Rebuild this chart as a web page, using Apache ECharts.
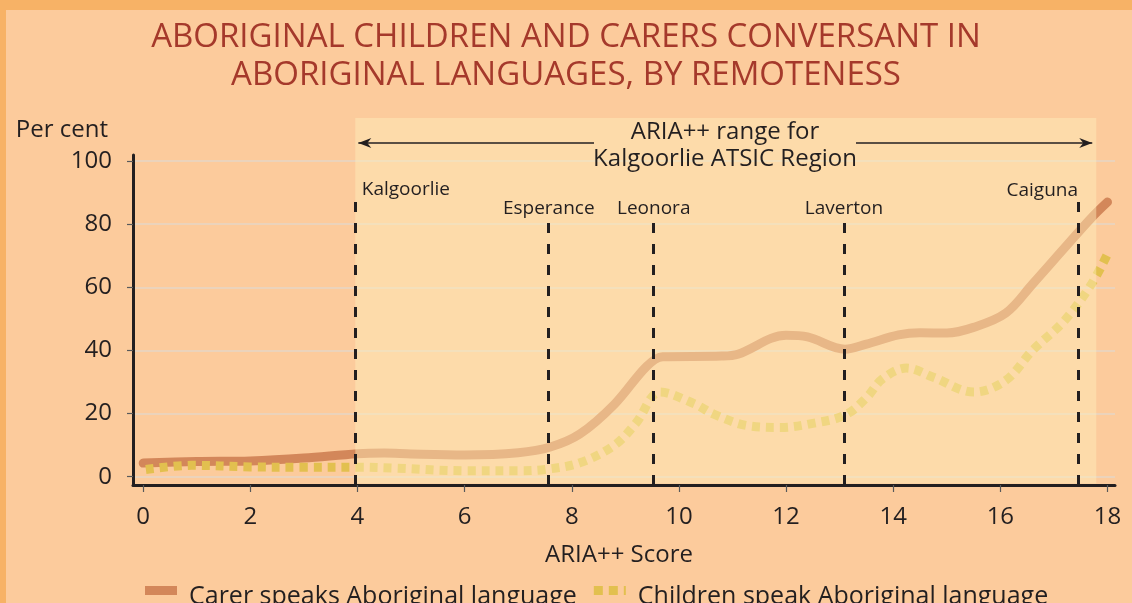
<!DOCTYPE html>
<html>
<head>
<meta charset="utf-8">
<script src="https://cdn.jsdelivr.net/npm/echarts@6/dist/echarts.min.js"></script>
<style>
  body { margin: 0; background: #fccb9c; }
  #chart { width: 1132px; height: 603px; }
</style>
</head>
<body>
<div id="chart"></div>
<script>
// ARIA++ score vs per cent conversant
const carerScore = [0, 1, 2, 3, 4, 4.5, 5, 6, 7, 7.6, 8.15, 8.8, 9.4, 9.7, 10.8, 11.1, 12, 12.4, 13.1, 13.5, 14.1, 14.5, 15, 15.5, 16.1, 16.6, 17.2, 17.7, 18];
const carerPct = [4.3, 4.8, 5.0, 5.9, 7.3, 7.5, 7.2, 6.9, 7.6, 9.4, 13.5, 23, 35, 38, 38.2, 38.8, 44.8, 44.3, 40.4, 42, 44.9, 45.6, 45.5, 47.3, 51.8, 61, 72.5, 82, 87];
const childScore = [0.05, 0.9, 2, 3, 4, 4.7, 6, 7, 7.5, 8.15, 8.8, 9.2, 9.65, 10.3, 10.65, 11.3, 11.9, 12.5, 13.1, 13.5, 13.8, 14.25, 14.75, 15.5, 16.1, 16.6, 17.2, 17.7, 18];
const childPct = [2.3, 3.6, 3.1, 3.0, 3.0, 2.7, 1.9, 1.9, 2.3, 4.4, 10, 17, 26.8, 23, 19.8, 16.1, 15.6, 16.9, 19.5, 25, 31, 34.4, 31.5, 26.8, 30.5, 40, 49.5, 61, 70.5];

const townNames = ["Kalgoorlie", "Esperance", "Leonora", "Laverton", "Caiguna"];
const townScores = [3.95, 7.57, 9.53, 13.08, 17.45];
const townLineTop = [89.9, 81.6, 81.6, 81.6, 88.3];

const regionRange = [3.96, 17.79];
const xTicks = [0, 2, 4, 6, 8, 10, 12, 14, 16, 18];
const yTicks = [0, 20, 40, 60, 80, 100];
const xExtent = [-0.19, 18.14];
const yExtent = [-2.63, 101.9];

const FONT = "Open Sans";
const INK = "#231f20";

const zip = (xs, ys) => xs.map((x, i) => [x, ys[i]]);

// label placement for the town markers
const townLabelAlign = ["left", "center", "center", "center", "right"];
const townLabelDist = [3, 10, 10, 10, 7];
const townLabelPad = [[0, 0, 0, 7], 0, 0, 0, 0];

const chart = echarts.init(document.getElementById("chart"));

const option = {
  backgroundColor: "#fccb9c",
  animation: false,
  textStyle: { fontFamily: FONT },
  title: {
    text: "ABORIGINAL CHILDREN AND CARERS CONVERSANT IN\nABORIGINAL LANGUAGES, BY REMOTENESS",
    left: "center",
    top: 14,
    textStyle: { color: "#a5392b", fontSize: 33, fontWeight: "normal", lineHeight: 38, fontFamily: FONT },
  },
  legend: {
    left: 140,
    top: 567,
    itemWidth: 32,
    itemHeight: 9,
    itemGap: 17,
    // blank first line pushes the label a little below the icon, as in the original
    formatter: (name) => "\n" + name,
    textStyle: { fontSize: 25, lineHeight: 12, color: INK, padding: [0, 0, 0, 7] },
    data: [
      { name: "Carer speaks Aboriginal language", icon: "rect" },
      { name: "Children speak Aboriginal language", icon: "path://M0,0h9v9h-9zM15,0h9v9h-9zM30,0h2v9h-2z" },
    ],
  },
  grid: { left: 133, top: 155, width: 982, height: 330, containLabel: false },
  xAxis: {
    type: "value",
    min: xExtent[0],
    max: xExtent[1],
    name: "ARIA++ Score",
    nameLocation: "middle",
    nameGap: 58,
    nameTextStyle: { fontSize: 24, color: INK, padding: [0, 10, 0, 0] },
    axisLine: { show: true, onZero: false, lineStyle: { color: INK, width: 3 } },
    axisTick: { show: true, customValues: xTicks, length: 7, lineStyle: { color: "#58595b", width: 1.2 } },
    axisLabel: { customValues: xTicks, fontSize: 24, color: INK, margin: 20 },
    splitLine: { show: false },
  },
  yAxis: {
    type: "value",
    min: yExtent[0],
    max: yExtent[1],
    name: "Per cent",
    nameLocation: "end",
    nameGap: 25,
    nameTextStyle: { fontSize: 24, color: INK, align: "right", verticalAlign: "middle", padding: [0, 25, 0, 0] },
    axisLine: { show: true, onZero: false, lineStyle: { color: INK, width: 3 } },
    axisTick: { show: true, customValues: yTicks, length: 6, lineStyle: { color: "#58595b", width: 1.2 } },
    axisLabel: { customValues: yTicks, fontSize: 24, color: INK, margin: 21 },
    splitLine: { show: true, lineStyle: { color: "#e6d6c6", width: 1.5 } },
  },
  series: [
    {
      name: "Carer speaks Aboriginal language",
      type: "line",
      data: zip(carerScore, carerPct),
      smooth: 0.35,
      symbol: "none",
      color: "#d3875a",
      lineStyle: { width: 9, color: "#d3875a", cap: "round" },
      z: 2,
      markLine: {
        silent: true,
        symbol: "none",
        animation: false,
        lineStyle: { color: INK, width: 3, type: [10, 11] },
        label: { show: true, position: "end", fontSize: 19, color: INK, fontFamily: FONT, verticalAlign: "middle" },
        data: townNames.map((n, i) => [
          {
            coord: [townScores[i], yExtent[0]],
            label: {
              formatter: n,
              align: townLabelAlign[i],
              distance: townLabelDist[i],
              padding: townLabelPad[i],
            },
          },
          { coord: [townScores[i], townLineTop[i]] },
        ]),
      },
    },
    {
      name: "Children speak Aboriginal language",
      type: "line",
      data: zip(childScore, childPct),
      smooth: 0.35,
      symbol: "none",
      color: "#e2c04f",
      lineStyle: { width: 9, color: "#e2c04f", type: [8, 6], cap: "butt" },
      z: 2,
    },
  ],
};

chart.setOption(option);

// highlight band and arrow for the Kalgoorlie ATSIC region range
const p0 = chart.convertToPixel({ gridIndex: 0 }, [regionRange[0], yExtent[0]]);
const p1 = chart.convertToPixel({ gridIndex: 0 }, [regionRange[1], yExtent[0]]);
const bandTop = 118;
const arrowY = 143;
const head = (x, dir) => ({
  type: "polygon",
  z: 6,
  shape: { points: [[x, arrowY], [x + dir * 13, arrowY - 5], [x + dir * 9, arrowY], [x + dir * 13, arrowY + 5]] },
  style: { fill: INK },
});

chart.setOption({
  graphic: [
    { type: "rect", z: 7, shape: { x: 0, y: 0, width: 1132, height: 10 }, style: { fill: "#f7b266" } },
    { type: "rect", z: 7, shape: { x: 0, y: 0, width: 6, height: 603 }, style: { fill: "#f7b266" } },
    {
      type: "rect",
      z: 3,
      silent: true,
      shape: { x: p0[0], y: bandTop, width: p1[0] - p0[0], height: p0[1] - 1.5 - bandTop },
      style: { fill: "rgba(255,239,186,0.47)" },
    },
    { type: "line", z: 6, shape: { x1: p0[0] + 3, y1: arrowY, x2: 594, y2: arrowY }, style: { stroke: INK, lineWidth: 1.5 } },
    { type: "line", z: 6, shape: { x1: 856, y1: arrowY, x2: p1[0] - 4, y2: arrowY }, style: { stroke: INK, lineWidth: 1.5 } },
    head(p0[0] + 3, 1),
    head(p1[0] - 4, -1),
    {
      type: "text",
      z: 6,
      x: 725,
      y: 146,
      style: {
        text: "ARIA++ range for\nKalgoorlie ATSIC Region",
        fontSize: 24,
        lineHeight: 27,
        fontFamily: FONT,
        fill: INK,
        align: "center",
        verticalAlign: "middle",
      },
    },
  ],
});
</script>
</body>
</html>
